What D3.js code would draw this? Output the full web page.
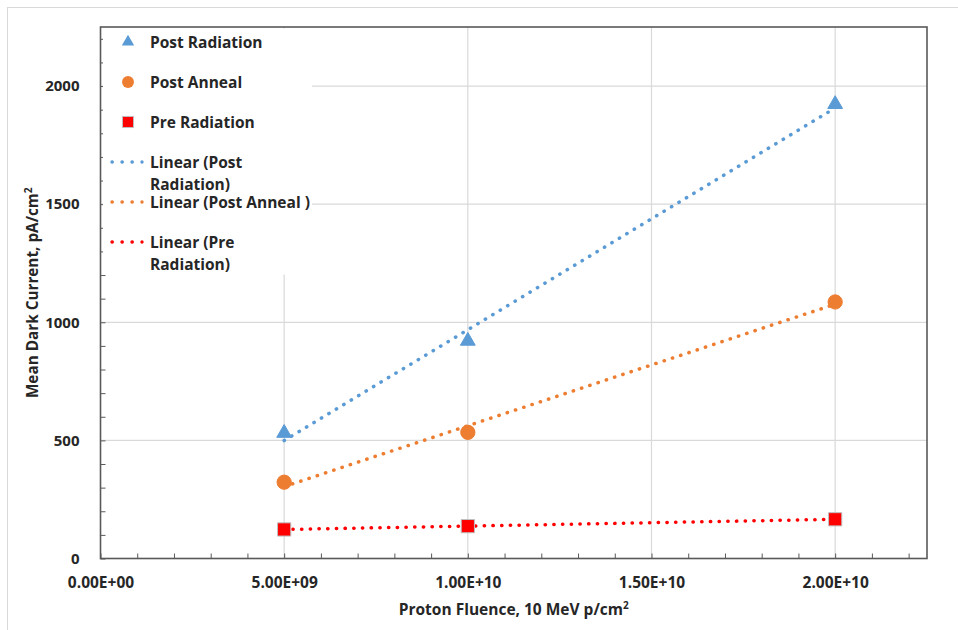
<!DOCTYPE html>
<html>
<head>
<meta charset="utf-8">
<script src="https://cdn.jsdelivr.net/npm/d3@7"></script>
<style>
  html, body { margin: 0; padding: 0; background: #fff; }
  svg { display: block; font-family: "Open Sans", Lato, sans-serif; font-weight: bold; }
</style>
</head>
<body>
<svg id="chart" width="958" height="630"></svg>
<script>
// data
const fluence = [5e9, 1e10, 2e10];
const postRadiation = [531, 921, 1923];
const postAnneal = [323, 534, 1086];
const preRadiation = [123, 137, 166];

const xMajorTicks = [0, 5e9, 1e10, 1.5e10, 2e10];
const yMajorTicks = [0, 500, 1000, 1500, 2000];

const series = [
  { name: 'Post Radiation', values: postRadiation, color: '#5b9bd5', symbol: d3.symbolTriangle, size: 95 },
  { name: 'Post Anneal', values: postAnneal, color: '#ed7d31', symbol: d3.symbolCircle, size: 160 },
  { name: 'Pre Radiation', values: preRadiation, color: '#ff0000', symbol: d3.symbolSquare, size: 175 }
];

const svg = d3.select('#chart');
const margin = { top: 27, right: 31, bottom: 72, left: 100.5 };
const W = 958, H = 630;
const textCol = '#262626';

// outer chart area border
svg.append('rect')
  .attr('x', 7.5).attr('y', 7.5)
  .attr('width', W).attr('height', H)
  .attr('fill', '#fff').attr('stroke', '#d9d9d9');

const x = d3.scaleLinear([0, 2.25e10], [margin.left, W - margin.right]);
const y = d3.scaleLinear([0, 2250], [H - margin.bottom + 0.5, margin.top]);

// gridlines
const grid = svg.append('g').attr('stroke', '#d9d9d9').attr('stroke-width', 1.2);
grid.selectAll('.gx').data(xMajorTicks.slice(1)).join('line')
  .attr('x1', d => x(d)).attr('x2', d => x(d))
  .attr('y1', y(0)).attr('y2', y(2250));
grid.selectAll('.gy').data(yMajorTicks.slice(1)).join('line')
  .attr('x1', x(0)).attr('x2', x(2.25e10))
  .attr('y1', d => y(d)).attr('y2', d => y(d));

// minor ticks (inside)
const tickCol = '#595959';
svg.append('g')
  .attr('transform', `translate(0,${y(0)})`)
  .call(d3.axisBottom(x).tickValues(d3.range(0, 2.25e10, 1e9)).tickSize(-5).tickFormat(''))
  .call(g => g.select('.domain').remove())
  .call(g => g.selectAll('line').attr('stroke', tickCol));
svg.append('g')
  .attr('transform', `translate(${x(0)},0)`)
  .call(d3.axisLeft(y).tickValues(d3.range(0, 2250, 100)).tickSize(-5).tickFormat(''))
  .call(g => g.select('.domain').remove())
  .call(g => g.selectAll('line').attr('stroke', tickCol));

// plot border
svg.append('rect')
  .attr('x', x(0)).attr('y', y(2250))
  .attr('width', x(2.25e10) - x(0)).attr('height', y(0) - y(2250))
  .attr('fill', 'none').attr('stroke', tickCol).attr('stroke-width', 1.6);

// tick labels
const sci = v => {
  const [m, e] = v.toExponential(2).split('e');
  const n = +e;
  return m + 'E' + (n < 0 ? '-' : '+') + String(Math.abs(n)).padStart(2, '0');
};
svg.append('g')
  .attr('transform', `translate(0,${y(0) + 15})`)
  .call(d3.axisBottom(x).tickValues(xMajorTicks).tickSize(0).tickFormat(sci))
  .call(g => g.select('.domain').remove())
  .call(g => g.selectAll('text').attr('fill', textCol)
    .style('font', 'bold 15.5px "Open Sans", sans-serif'));
svg.append('g')
  .attr('transform', `translate(${x(0) - 18},0)`)
  .call(d3.axisLeft(y).tickValues(yMajorTicks).tickSize(0).tickFormat(d3.format('d')))
  .call(g => g.select('.domain').remove())
  .call(g => g.selectAll('text').attr('fill', textCol)
    .style('font', 'bold 15px "Open Sans", sans-serif'));

// linear trendlines (least squares over the plotted points)
function fit(xs, ys) {
  const mx = d3.mean(xs), my = d3.mean(ys);
  const sxy = d3.sum(xs, (v, i) => (v - mx) * (ys[i] - my));
  const sxx = d3.sum(xs, v => (v - mx) ** 2);
  const b = sxy / sxx;
  return { a: my - b * mx, b };
}
const xExt = d3.extent(fluence);
series.forEach(s => {
  const f = fit(fluence, s.values);
  svg.append('line')
    .attr('x1', x(xExt[0])).attr('y1', y(f.a + f.b * xExt[0]))
    .attr('x2', x(xExt[1])).attr('y2', y(f.a + f.b * xExt[1]))
    .attr('stroke', s.color).attr('stroke-width', 3.5)
    .attr('stroke-linecap', 'round').attr('stroke-dasharray', '0.3 8.4');
});

// markers
series.forEach(s => {
  svg.append('g').selectAll('path')
    .data(fluence.map((f, i) => [f, s.values[i]]))
    .join('path')
    .attr('transform', d => `translate(${x(d[0])},${y(d[1])})`)
    .attr('d', d3.symbol(s.symbol, s.size))
    .attr('fill', s.color)
    .attr('stroke', s.symbol === d3.symbolSquare ? '#bfbfbf' : s.color)
    .attr('stroke-width', 1);
});

// legend (white box over the grid)
const legend = svg.append('g');
legend.append('rect')
  .attr('x', 103).attr('y', 28.5).attr('width', 209).attr('height', 246)
  .attr('fill', '#fff');
const legendText = (lines, yy) => {
  const t = legend.append('text').attr('x', 150).attr('y', yy)
    .attr('fill', textCol).style('font-size', '15.5px');
  lines.forEach((l, i) => t.append('tspan').attr('x', 150).attr('dy', i ? 22 : 0).text(l));
};
const markerRows = [42, 82, 122];
series.forEach((s, i) => {
  legend.append('path')
    .attr('transform', `translate(128,${markerRows[i]})`)
    .attr('d', d3.symbol(s.symbol, s.size * 0.7))
    .attr('fill', s.color)
    .attr('stroke', s.symbol === d3.symbolSquare ? '#bfbfbf' : 'none');
  legendText([s.name], markerRows[i] + 5.5);
});
const trendRows = [
  { y: 162, lines: ['Linear (Post', 'Radiation)'] },
  { y: 202, lines: ['Linear (Post Anneal )'] },
  { y: 242, lines: ['Linear (Pre', 'Radiation)'] }
];
series.forEach((s, i) => {
  const r = trendRows[i];
  legend.append('line')
    .attr('x1', 112).attr('x2', 142).attr('y1', r.y).attr('y2', r.y)
    .attr('stroke', s.color).attr('stroke-width', 3.4)
    .attr('stroke-linecap', 'round').attr('stroke-dasharray', '0.3 9.7');
  legendText(r.lines, r.y + 5.5);
});

// axis titles
const xt = svg.append('text')
  .attr('x', (x(0) + x(2.25e10)) / 2).attr('y', 615)
  .attr('text-anchor', 'middle').attr('fill', textCol).style('font-size', '15.5px')
  .text('Proton Fluence, 10 MeV p/cm');
xt.append('tspan').attr('dy', -6).style('font-size', '10px').text('2');

const yt = svg.append('text')
  .attr('transform', `translate(38,${(y(0) + y(2250)) / 2}) rotate(-90)`)
  .attr('text-anchor', 'middle').attr('fill', textCol).style('font-size', '15.3px')
  .text('Mean Dark Current, pA/cm');
yt.append('tspan').attr('dy', -6).style('font-size', '10px').text('2');
</script>
</body>
</html>
